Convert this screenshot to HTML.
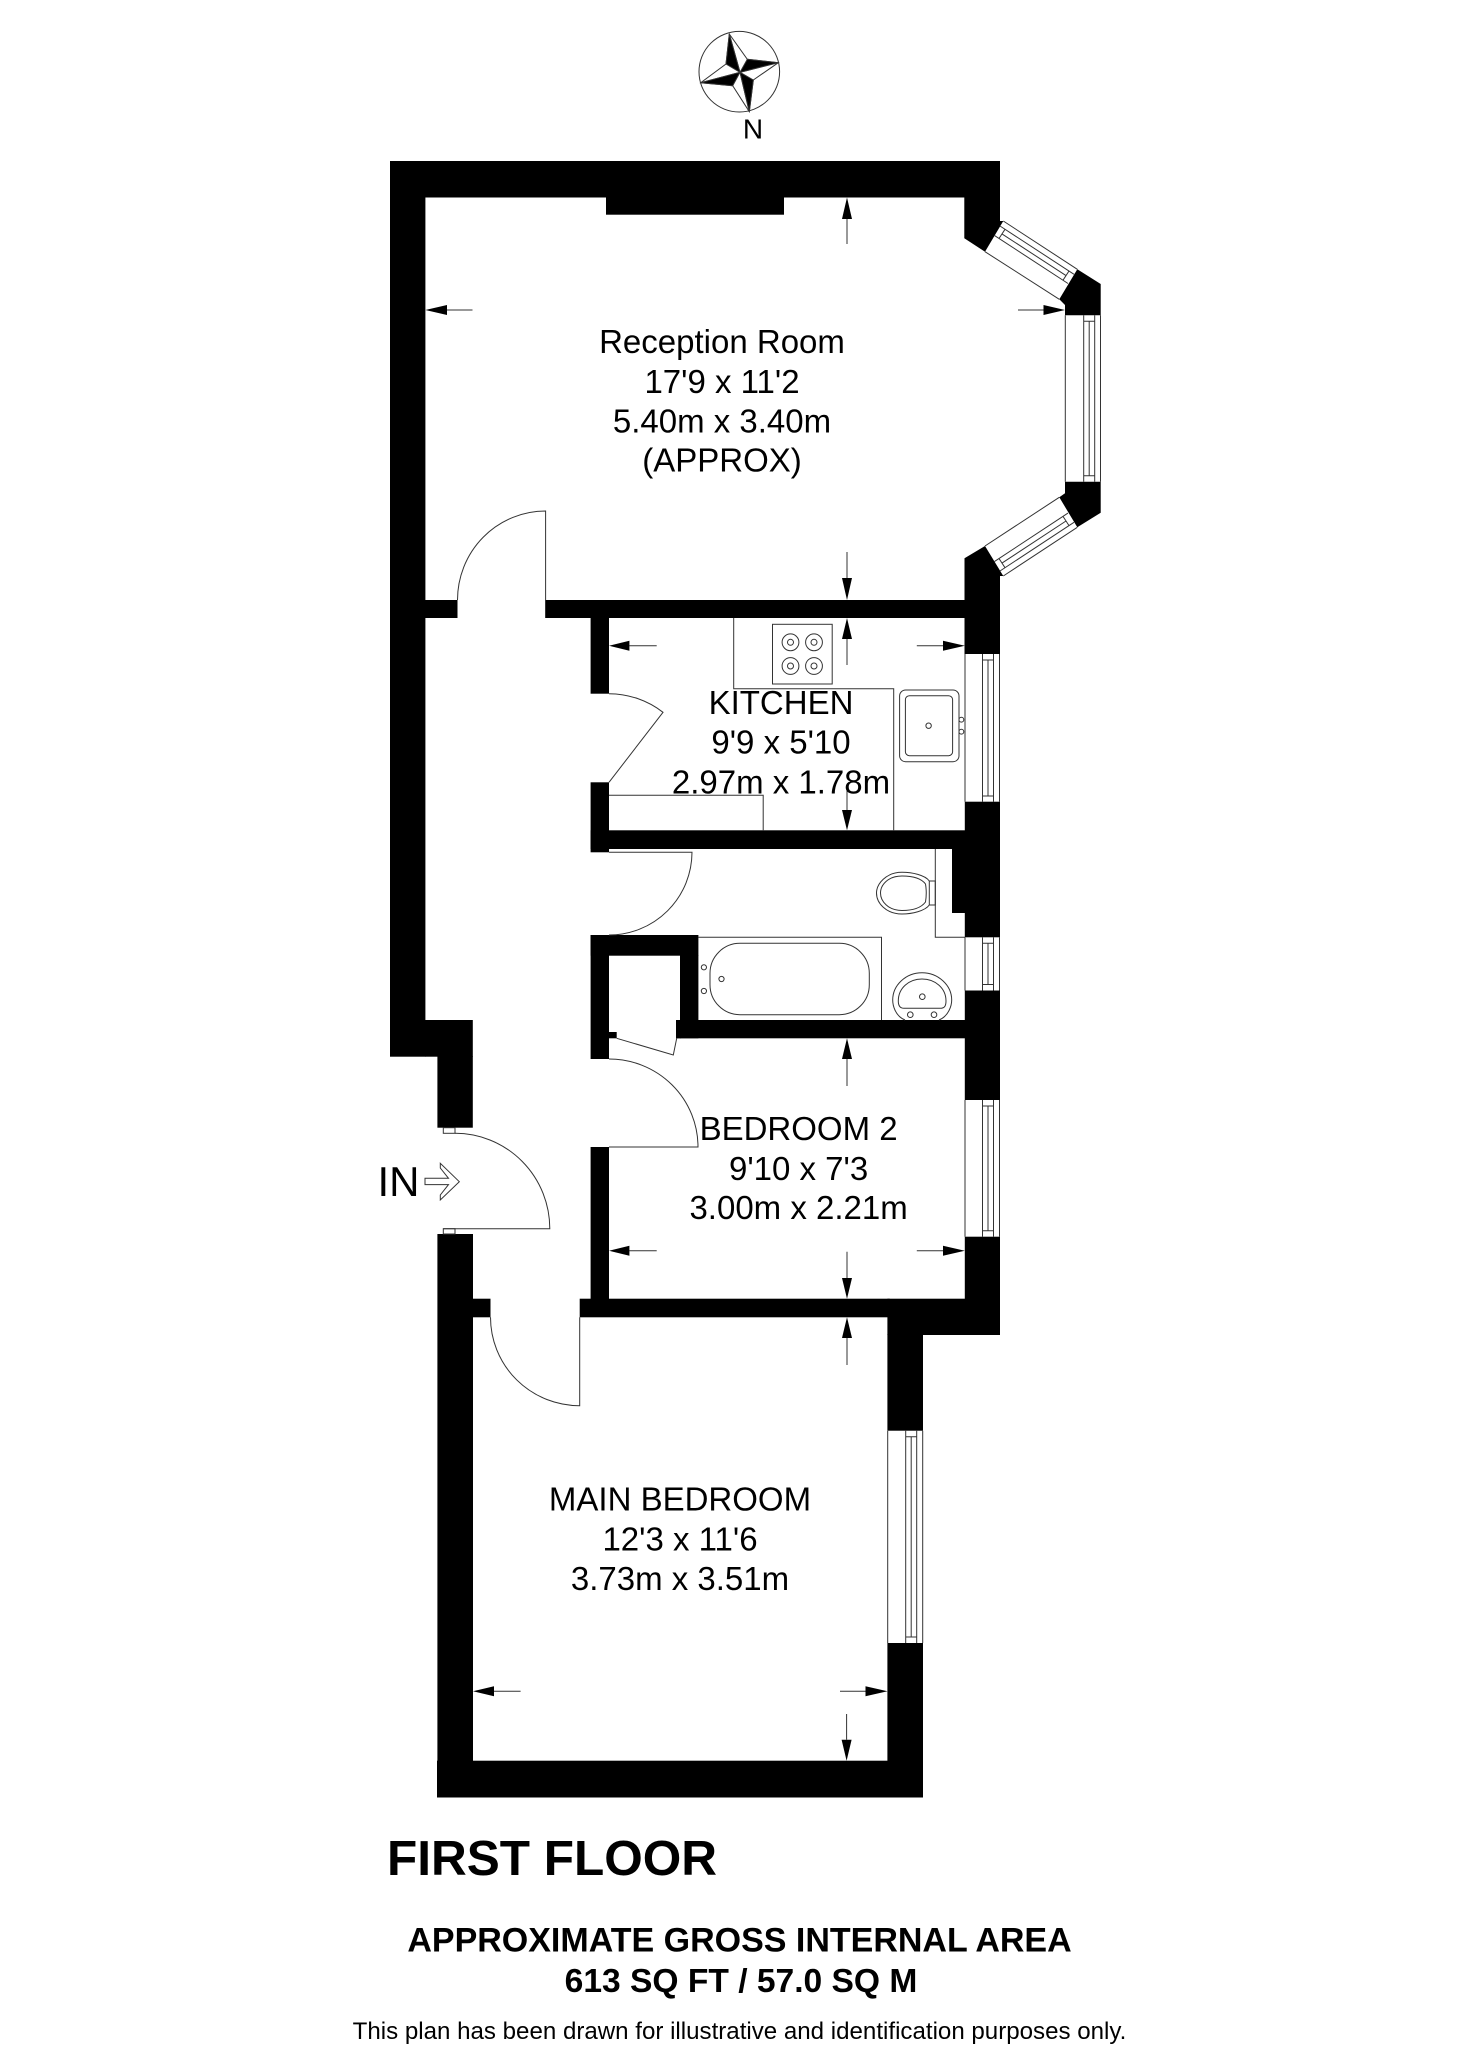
<!DOCTYPE html>
<html><head><meta charset="utf-8"><style>html,body{margin:0;padding:0;background:#fff}svg{display:block}text{font-family:"Liberation Sans",Arial,sans-serif;fill:#000}</style></head><body>
<svg width="1479" height="2048" viewBox="0 0 1479 2048" xmlns="http://www.w3.org/2000/svg">
<rect width="1479" height="2048" fill="#fff"/>
<!-- compass -->
<g stroke="#333" stroke-width="1" fill="#fff">
<circle cx="739.3" cy="71.7" r="40.3" fill="none"/>
<path d="M729.3,34L747.3,59.3L778.3,62.7L753.3,80L749.3,111.7L732.7,85.7L700.7,82.7L726,64Z"/>
<path d="M740,72.3L729.3,34M740,72.3L778.3,62.7M740,72.3L749.3,111.7M740,72.3L700.7,82.7"/>
<path d="M729.3,34L726,64L740,72.3Z M778.3,62.7L747.3,59.3L740,72.3Z M749.3,111.7L753.3,80L740,72.3Z M700.7,82.7L732.7,85.7L740,72.3Z" fill="#000"/>
</g>
<text x="753" y="138.5" font-size="28" text-anchor="middle">N</text>

<!-- walls -->
<g fill="#000">
<rect x="390" y="161" width="610" height="36.5"/>
<rect x="390" y="161" width="35.4" height="895.7"/>
<rect x="606" y="197" width="178" height="17.7"/>
<polygon points="964.3,197 1000,197 1000,221 1003.3,221 985,251.7 964.3,238.3"/>
<polygon points="1077.3,269.3 1100.7,284 1100.7,315.3 1065,315.3 1065,305 1059.3,299.3"/>
<polygon points="1065,481.7 1100.7,481.7 1100.7,512.7 1077.3,527.3 1059.3,497.3 1065,493.3"/>
<polygon points="985,546 1003.3,576 1000,576 1000,654 964.5,654 964.5,558.3"/>
<rect x="425" y="600" width="32.5" height="18"/>
<rect x="545.2" y="600" width="420" height="18"/>
<rect x="590.6" y="618" width="18.4" height="75.7"/>
<rect x="590.6" y="782.3" width="18.4" height="70"/>
<rect x="590.6" y="830.3" width="409.4" height="18.7"/>
<rect x="964.8" y="801.7" width="35.2" height="30"/>
<rect x="952" y="849" width="48" height="64"/>
<rect x="964.8" y="912" width="35.2" height="25.3"/>
<rect x="964.8" y="990.5" width="35.2" height="109.5"/>
<rect x="964.8" y="1236.7" width="35.2" height="98.3"/>
<rect x="887.4" y="1298.7" width="112.6" height="36.3"/>
<rect x="887.4" y="1334" width="35.6" height="96.7"/>
<rect x="887.4" y="1643" width="35.6" height="154.5"/>
<rect x="437" y="1760.7" width="486" height="36.8"/>
<rect x="437.4" y="1234" width="35.6" height="563.5"/>
<rect x="473" y="1298.7" width="17.5" height="18.6"/>
<rect x="579.7" y="1298.7" width="310" height="18.6"/>
<rect x="425" y="1020" width="47.8" height="36.7"/>
<rect x="437.4" y="1056" width="35.4" height="71.7"/>
<rect x="590.6" y="935" width="107.8" height="20.7"/>
<rect x="590.6" y="935" width="18.4" height="124"/>
<rect x="680" y="955" width="18.4" height="83.3"/>
<rect x="676" y="1020" width="324" height="18.3"/>
<rect x="676" y="1032" width="5" height="6.3"/>
<rect x="609" y="1032" width="7.7" height="6.3"/>
<rect x="590.6" y="1147" width="18.4" height="170"/>
</g>

<g fill="none" stroke="#333" stroke-width="1">
<!-- upper bay window -->
<path d="M1003.3,221L1077.3,269.3M985,251.7L1059.3,299.3"/>
<path d="M1000,226L1074,274.3M994,235.2L1068,283.5M1002,233.9L1066,275.6M1005,229.3L999,238.5M1069,271L1063,280.2"/>
<!-- lower bay window -->
<path d="M1003.3,576L1077.3,527.3M985,546L1059.3,497.3"/>
<path d="M1000,571L1074,522.3M994,561.8L1068,513.1M1002,563.1L1066,521M1005,567.7L999,558.5M1069,525.6L1063,516.4"/>
<!-- centre bay window -->
<path d="M1065.3,315.3V481.7M1100.5,315.3V481.7M1083.7,315.3V481.7M1094.7,315.3V481.7M1089.2,321.3V475.7M1083.7,321.3H1094.7M1083.7,475.7H1094.7"/>
<!-- kitchen window -->
<path d="M965,654V801.7M999.5,654V801.7M982.5,654V801.7M993.5,654V801.7M988,660V796M982.5,660H993.5M982.5,796H993.5"/>
<!-- bath window -->
<path d="M965,937.3V990.5M999.5,937.3V990.5M982.5,937.3V990.5M993.5,937.3V990.5M988,943.3V984.5M982.5,943.3H993.5M982.5,984.5H993.5"/>
<!-- bed 2 window -->
<path d="M965,1100V1236.7M999.5,1100V1236.7M982.5,1100V1236.7M993.5,1100V1236.7M988,1106V1230.7M982.5,1106H993.5M982.5,1230.7H993.5"/>
<!-- main window -->
<path d="M887.7,1430.7V1643M922.7,1430.7V1643M905.7,1430.7V1643M916.7,1430.7V1643M911.2,1436.7V1637M905.7,1436.7H916.7M905.7,1637H916.7"/>

<!-- doors -->
<path d="M457.5,600A88.2,89 0 0 1 545.6,511V600"/>
<path d="M609,693.7A88.6,88.6 0 0 1 663,712.3L609,782.3"/>
<path d="M609,852.3H692A83,83 0 0 1 609,935"/>
<path d="M609,1059A89,88 0 0 1 698,1147H609"/>
<path d="M455,1133.3A94.8,95.4 0 0 1 549.8,1228.7H443.3"/>
<path d="M490.5,1317.3A89.2,88.4 0 0 0 579.7,1405.7V1317.3"/>
<path d="M616.7,1038.3L673.3,1055L676.7,1038.3"/>
<rect x="443.3" y="1127.7" width="11.7" height="5.6"/>
<rect x="443.3" y="1228.7" width="11.7" height="5.3"/>

<!-- kitchen units -->
<path d="M733.7,618V688.7H893.7V830.3"/>
<path d="M609,795.3H763.2V830.3"/>
<rect x="772.5" y="624.3" width="59.7" height="59.7"/>
<circle cx="790.5" cy="642.3" r="8.4"/><circle cx="790.5" cy="642.3" r="3"/>
<circle cx="814" cy="642.3" r="8.4"/><circle cx="814" cy="642.3" r="3"/>
<circle cx="790.5" cy="666" r="8.4"/><circle cx="790.5" cy="666" r="3"/>
<circle cx="814" cy="666" r="8.4"/><circle cx="814" cy="666" r="3"/>
<rect x="899.6" y="690" width="59.4" height="71.7" rx="6"/>
<rect x="905.4" y="695.7" width="47.2" height="60" rx="4"/>
<circle cx="928.6" cy="725.7" r="2.7"/>
<circle cx="961.4" cy="719.7" r="2.4"/><circle cx="961.4" cy="731.7" r="2.4"/>

<!-- bathroom -->
<path d="M698.4,937.3H881.5V1020"/>
<rect x="710" y="943.3" width="159.3" height="71.4" rx="30"/>
<circle cx="703.9" cy="967.3" r="2.6"/><circle cx="703.9" cy="991" r="2.6"/><circle cx="721.5" cy="979" r="2.6"/>
<path d="M935.3,849V937.3H965"/>
<rect x="929.3" y="881" width="6" height="24"/>
<path d="M929.3,881C925,875 912,872.3 902,872.3C886,872.3 876.5,884 876.5,893C876.5,903 886,914 902,914C912,914 925,911 929.3,905"/>
<path d="M925.5,884C921,878 912,876 902,876C888,876 880.5,885 880.5,893C880.5,901 888,910.5 902,910.5C912,910.5 921,908 925.5,902C926.5,896 926.5,890 925.5,884Z"/>
<path d="M905,1020C895,1016 892.7,1005 892.7,1000C892.7,985 906,972.7 922,972.7C938,972.7 951.7,985 951.7,1000C951.7,1005 949,1016 939,1020"/>
<path d="M904,1008.3H940C944.5,1008.3 946,1006 946,1001C946,988 935,979 922,979C909,979 898.3,988 898.3,1001C898.3,1006 900,1008.3 904,1008.3Z"/>
<circle cx="922.3" cy="996.7" r="2.8"/><circle cx="910.3" cy="1014.7" r="2.8"/><circle cx="934" cy="1014.7" r="2.8"/>

<!-- entry arrow -->
<path d="M425,1178.3H448.5L440.3,1168V1163.3L459.3,1181.7L440.3,1200V1195L448.5,1184.6H425Z"/>

<!-- dimension lines -->
<path d="M847,219V244M447,310H472.5M1043.5,310H1018M847,578V552"/>
<path d="M847,639V665M629.4,645.7H656.7M943,645.7H916.8M847,810V790.7"/>
<path d="M847,1059V1086M629.4,1250.7H656.7M943,1250.7H916.8M847,1278V1251.7"/>
<path d="M847,1338V1365M494,1691.3H520.6M865.5,1691.3H840M846.6,1739.7V1714"/>
</g>

<!-- arrowheads -->
<g fill="#000">
<polygon points="847,197.5 842,219 852,219"/>
<polygon points="425.4,310 447,305 447,315"/>
<polygon points="1065,310 1043.5,305 1043.5,315"/>
<polygon points="847,600 842,578 852,578"/>
<polygon points="847,618 842,639 852,639"/>
<polygon points="609,645.7 629.4,640.7 629.4,650.7"/>
<polygon points="964.8,645.7 943,640.7 943,650.7"/>
<polygon points="847,830.3 842,810 852,810"/>
<polygon points="847,1038.3 842,1059 852,1059"/>
<polygon points="609,1250.7 629.4,1245.7 629.4,1255.7"/>
<polygon points="964.8,1250.7 943,1245.7 943,1255.7"/>
<polygon points="847,1298.7 842,1278 852,1278"/>
<polygon points="847,1317.3 842,1338 852,1338"/>
<polygon points="473,1691.3 494,1686.3 494,1696.3"/>
<polygon points="887.5,1691.3 865.5,1686.3 865.5,1696.3"/>
<polygon points="846.6,1760.7 841.6,1739.7 851.6,1739.7"/>
</g>

<!-- labels -->
<g font-size="33" text-anchor="middle">
<text x="722" y="353">Reception Room</text>
<text x="722" y="393">17'9 x 11'2</text>
<text x="722" y="432.5">5.40m x 3.40m</text>
<text x="722" y="471.5">(APPROX)</text>
<text x="781" y="714">KITCHEN</text>
<text x="781" y="753.5">9'9 x 5'10</text>
<text x="781" y="793.5">2.97m x 1.78m</text>
<text x="798.6" y="1140">BEDROOM 2</text>
<text x="798.6" y="1180">9'10 x 7'3</text>
<text x="798.6" y="1219">3.00m x 2.21m</text>
<text x="680" y="1510.5">MAIN BEDROOM</text>
<text x="680" y="1550.5">12'3 x 11'6</text>
<text x="680" y="1590">3.73m x 3.51m</text>
</g>
<text x="377.5" y="1196" font-size="42">IN</text>
<text x="387" y="1875" font-size="49.5" font-weight="bold">FIRST FLOOR</text>
<text x="739.5" y="1951.5" font-size="34" font-weight="bold" text-anchor="middle">APPROXIMATE GROSS INTERNAL AREA</text>
<text x="741" y="1992" font-size="33.6" font-weight="bold" text-anchor="middle">613 SQ FT / 57.0 SQ M</text>
<text x="739.5" y="2039" font-size="24.1" text-anchor="middle">This plan has been drawn for illustrative and identification purposes only.</text>
</svg>
</body></html>
